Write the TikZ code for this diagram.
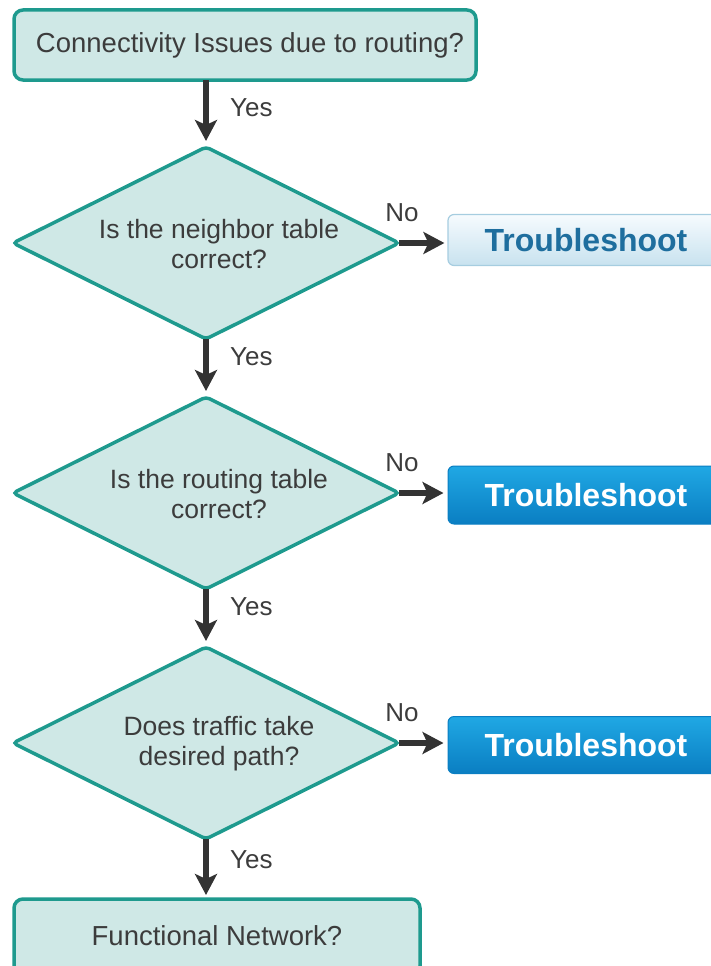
\documentclass[tikz,border=0pt]{standalone}
\usepackage{fontspec}
\setmainfont{Liberation Sans}
\usetikzlibrary{shapes.geometric,arrows.meta}
\definecolor{tealline}{HTML}{1E9A8E}
\definecolor{tealfill}{HTML}{CFE8E6}
\definecolor{txtgray}{HTML}{3C3C3C}
\definecolor{arrowdark}{HTML}{333333}
\definecolor{lbtop}{HTML}{F6FBFE}
\definecolor{lbbot}{HTML}{C8E2EF}
\definecolor{lbline}{HTML}{A6CDE0}
\definecolor{lbtext}{HTML}{1E6E9E}
\definecolor{dbtop}{HTML}{20A8E4}
\definecolor{dbbot}{HTML}{0A7EC2}
\tikzset{
  procbox/.style={draw=tealline, fill=tealfill, line width=3.5pt, rounded corners=9pt,
    inner sep=0pt, outer sep=0pt, text=txtgray, font=\fontsize{27.5}{30}\selectfont},
  decision/.style={diamond, draw=tealline, fill=tealfill, line width=3.5pt, rounded corners=4pt,
    inner sep=0pt, outer sep=0pt, minimum width=386pt, minimum height=192pt},
  dtext/.style={text=txtgray, align=center, font=\fontsize{26.5}{30}\selectfont, inner sep=0pt},
  lighttrouble/.style={draw=lbline, line width=1.2pt, top color=lbtop, bottom color=lbbot,
    rounded corners=6pt, minimum width=276pt, inner sep=0pt, text=lbtext,
    font=\fontsize{32}{36}\selectfont\bfseries},
  darktrouble/.style={draw=dbbot, line width=1pt, top color=dbtop, bottom color=dbbot,
    rounded corners=6pt, minimum width=276pt, inner sep=0pt, text=white,
    font=\fontsize{32}{36}\selectfont\bfseries},
  flowarrow/.style={draw=arrowdark, line width=5.5pt, -{Stealth[length=21pt,width=22pt,inset=5pt]}},
  lbl/.style={text=txtgray, font=\fontsize{26}{28}\selectfont, inner sep=0pt}
}
\begin{document}
\begin{tikzpicture}[x=1pt,y=-1pt]
\useasboundingbox (0,0) rectangle (711,966);
\clip (0,0) rectangle (711,966);
\node[procbox, minimum width=462pt, minimum height=70pt] (start) at (245,45) {\hspace*{10pt}Connectivity Issues due to routing?};
\node[decision] (d1) at (206,243) {};
\node[dtext] (t1) at (219,244) {Is the neighbor table\\correct?};
\node[decision] (d2) at (206,493) {};
\node[dtext] (t2) at (219,494) {Is the routing table\\correct?};
\node[decision] (d3) at (206,743) {};
\node[dtext] (t3) at (219,744) {Does traffic take\\desired path?};
\node[procbox, minimum width=406pt, minimum height=76pt] (end) at (217,937) {\raisebox{3pt}{Functional Network?}};
\node[lighttrouble, minimum height=51pt] (ts1) at (586,240) {Troubleshoot};
\node[darktrouble, minimum height=58pt] (ts2) at (586,495) {Troubleshoot};
\node[darktrouble, minimum height=57pt] (ts3) at (586,745) {Troubleshoot};
\draw[flowarrow, shorten >=6pt] (start.south -| d1.north) -- (d1.north);
\draw[flowarrow, shorten >=6pt] (d1.south) -- (d2.north);
\draw[flowarrow, shorten >=6pt] (d2.south) -- (d3.north);
\draw[flowarrow, shorten >=4pt] (d3.south) -- (d3.south |- end.north);
\draw[flowarrow, shorten >=3pt] (d1.east) -- (d1.east -| ts1.west);
\draw[flowarrow, shorten >=4pt] (d2.east) -- (d2.east -| ts2.west);
\draw[flowarrow, shorten >=4pt] (d3.east) -- (d3.east -| ts3.west);
\node[lbl, anchor=west] (y1) at (230,108) {Yes};
\node[lbl, anchor=west] (y2) at (230,357) {Yes};
\node[lbl, anchor=west] (y3) at (230,607) {Yes};
\node[lbl, anchor=west] (y4) at (230,860) {Yes};
\node[lbl] (n1) at (402,213) {No};
\node[lbl] (n2) at (402,463) {No};
\node[lbl] (n3) at (402,713) {No};
\end{tikzpicture}
\end{document}
